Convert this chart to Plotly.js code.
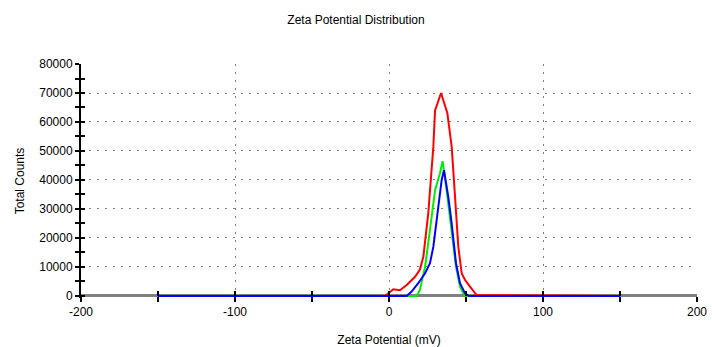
<!DOCTYPE html>
<html>
<head>
<meta charset="utf-8">
<script src="https://cdn.plot.ly/plotly-3.0.1.min.js"></script>
<style>html,body{margin:0;padding:0;background:#fff;}#chart{width:712px;height:347px;}</style>
</head>
<body>
<div id="chart"></div>
<script>
// Zeta potential (mV) and total counts
const redX   = [-150, -2.6, 2.8, 7.1, 11.5, 16.9, 20.0, 22.3, 25.5, 28.8, 29.9, 33.8, 37.9, 40.7, 42.9, 45.0, 47.2, 49.4, 52.6, 56.9, 150];
const redY   = [0, 0, 2300, 2000, 3800, 6600, 9000, 13500, 28500, 51500, 64000, 70000, 63000, 51500, 34000, 17000, 7800, 5500, 3200, 300, 0];
const greenX = [-150, 18.0, 20.0, 23.4, 26.6, 29.9, 33.1, 34.8, 37.4, 40.7, 43.5, 46.1, 48.3, 50.0, 150];
const greenY = [0, 0, 2000, 10000, 22800, 36500, 42300, 46500, 36500, 21600, 10100, 3200, 900, 0, 0];
const blueX  = [-150, 11.5, 14.7, 19.0, 23.4, 26.6, 28.8, 32.0, 34.2, 35.7, 38.5, 40.7, 43.5, 46.1, 49.4, 52.0, 150];
const blueY  = [0, 0, 1500, 4400, 7800, 11300, 17000, 30800, 40000, 43400, 34200, 25000, 11300, 4400, 900, 0, 0];

const xMajor = [-200, -100, 0, 100, 200];
const xAll   = [-200, -150, -100, -50, 0, 50, 100, 150, 200];
const yMajor = [0, 10000, 20000, 30000, 40000, 50000, 60000, 70000, 80000];
const yAll   = [0, 5000, 10000, 15000, 20000, 25000, 30000, 35000, 40000, 45000, 50000, 55000, 60000, 65000, 70000, 75000, 80000];

const FONT = 'Liberation Sans, Arial, sans-serif';
const yRange = [-700, 80000];
const xRange = [-200, 200];
const axPos = 700 / 80700;

const traces = [
  {x: redX, y: redY, mode: 'lines', line: {color: '#ff0000', width: 2}, hoverinfo: 'skip', showlegend: false},
  {x: greenX, y: greenY, mode: 'lines', line: {color: '#00ee00', width: 2}, hoverinfo: 'skip', showlegend: false},
  {x: blueX, y: blueY, mode: 'lines', line: {color: '#0000ff', width: 2}, hoverinfo: 'skip', showlegend: false},
  {x: [], y: [], xaxis: 'x2', yaxis: 'y', hoverinfo: 'skip', showlegend: false},
  {x: [], y: [], xaxis: 'x', yaxis: 'y2', hoverinfo: 'skip', showlegend: false}
];

const gridStyle = {showgrid: true, gridcolor: '#808080', gridwidth: 1, griddash: '1.5px,6.5px'};

const layout = {
  width: 712, height: 347,
  margin: {l: 81, r: 15, t: 64, b: 49, pad: 0},
  paper_bgcolor: '#ffffff', plot_bgcolor: '#ffffff',
  font: {family: FONT, size: 12, color: '#000'},
  title: {text: 'Zeta Potential Distribution', font: {family: FONT, size: 12, color: '#000'},
          x: 0.5, xref: 'container', xanchor: 'center', y: 1 - 20/347, yref: 'container', yanchor: 'middle'},
  xaxis: Object.assign({
    range: xRange, tickvals: xMajor, ticktext: xMajor.map(String),
    anchor: 'free', position: axPos,
    ticks: 'outside', ticklen: 5, tickwidth: 2, tickcolor: '#000',
    minor: {tickvals: xAll, ticks: 'outside', ticklen: 5, tickwidth: 2, tickcolor: '#000', showgrid: false},
    showline: false, zeroline: false,
    tickfont: {family: FONT, size: 12},
    title: {text: 'Zeta Potential (mV)', font: {family: FONT, size: 12}, standoff: 17},
    fixedrange: true
  }, gridStyle),
  xaxis2: {
    range: xRange, overlaying: 'x', anchor: 'free', position: axPos, side: 'bottom',
    tickvals: xAll, ticks: 'inside', ticklen: 5, tickwidth: 2, tickcolor: '#000',
    showticklabels: false, showgrid: false, zeroline: false, showline: false
  },
  yaxis: Object.assign({
    range: yRange, tickvals: yMajor, ticktext: yMajor.map(String),
    ticks: 'outside', ticklen: 4, tickwidth: 2, tickcolor: '#000',
    minor: {tickvals: yAll, ticks: 'outside', ticklen: 4, tickwidth: 2, tickcolor: '#000', showgrid: false},
    showline: true, linecolor: '#000', linewidth: 2,
    zeroline: true, zerolinecolor: '#808080', zerolinewidth: 3,
    tickfont: {family: FONT, size: 12},
    title: {text: 'Total Counts', font: {family: FONT, size: 12}, standoff: 12},
    fixedrange: true
  }, gridStyle),
  yaxis2: {
    range: yRange, overlaying: 'y', anchor: 'x', side: 'left',
    tickvals: yAll, ticks: 'inside', ticklen: 4, tickwidth: 2, tickcolor: '#000',
    showticklabels: false, showgrid: false, zeroline: false, showline: false
  }
};

Plotly.newPlot('chart', traces, layout, {staticPlot: true, displayModeBar: false});
</script>
</body>
</html>
